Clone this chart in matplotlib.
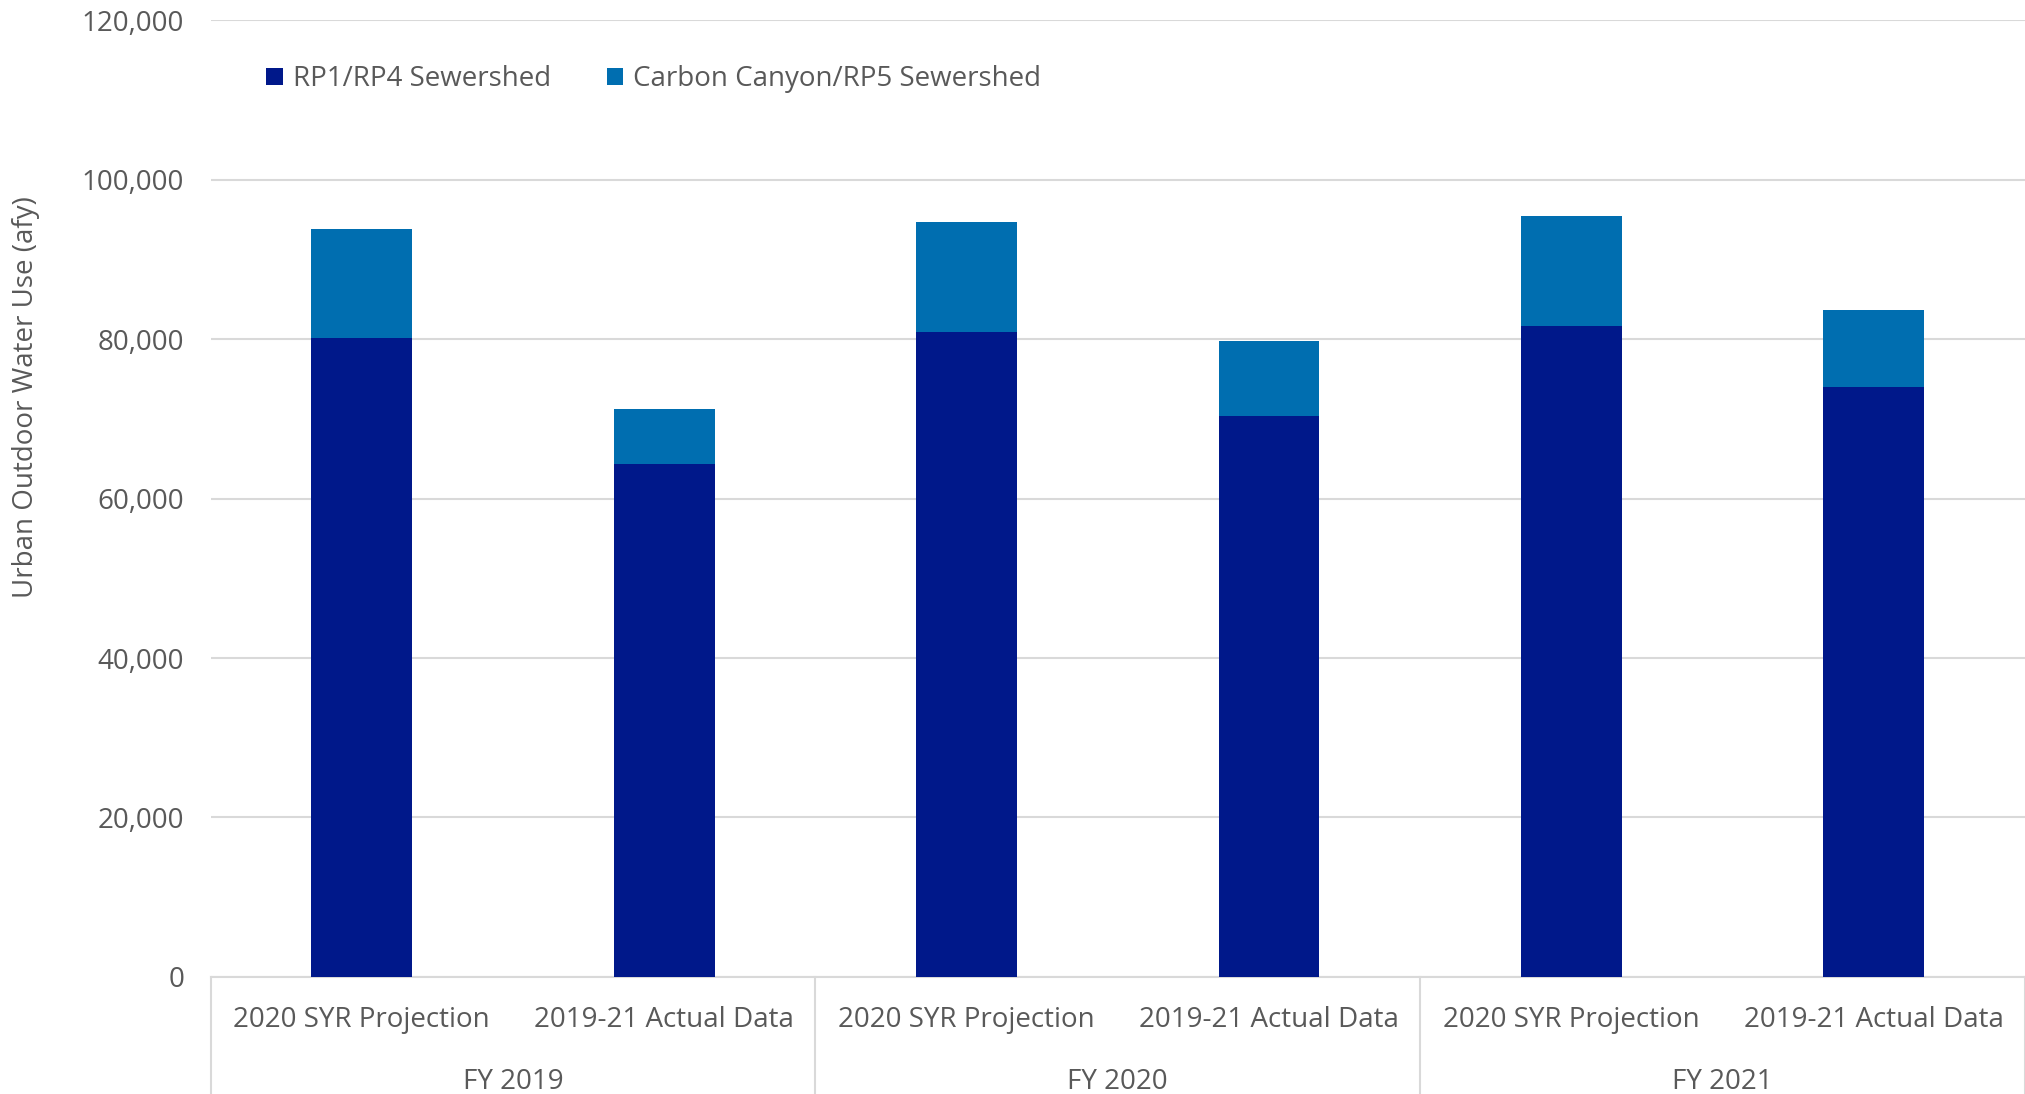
import matplotlib.pyplot as plt
import numpy as np

# data (afy)
years = ['FY 2019', 'FY 2020', 'FY 2021']
sub_labels = ['2020 SYR Projection', '2019-21 Actual Data']
rp1_rp4 = [80200, 64400, 80900, 70400, 81600, 74000]
carbon_rp5 = [13600, 6800, 13800, 9400, 13900, 9700]
series_names = ['RP1/RP4 Sewershed', 'Carbon Canyon/RP5 Sewershed']
yticks = [0, 20000, 40000, 60000, 80000, 100000, 120000]

dark = '#00188a'
light = '#006eb0'
txt = '#595959'
grid = '#d9d9d9'

plt.rcParams['font.family'] = ['Open Sans', 'DejaVu Sans']

fig = plt.figure(figsize=(20.25, 10.94), dpi=100)
ax = fig.add_axes([0.104, 0.107, 0.896, 0.8745])

x = np.arange(len(rp1_rp4))
w = 0.333
ax.bar(x, rp1_rp4, width=w, color=dark, label=series_names[0], zorder=3)
ax.bar(x, carbon_rp5, width=w, bottom=rp1_rp4, color=light, label=series_names[1], zorder=3)

ax.set_xlim(-0.5, len(x) - 0.5)
ax.set_ylim(0, 120000)
ax.set_yticks(yticks)
ax.set_yticklabels([f'{v:,}' for v in yticks])
ax.yaxis.grid(True, color=grid, linewidth=1.5, zorder=0)
ax.tick_params(axis='y', length=0, pad=19, labelsize=20, labelcolor=txt)

ax.set_xticks(x)
ax.set_xticklabels(sub_labels * len(years))
ax.tick_params(axis='x', length=0, pad=21, labelsize=20, labelcolor=txt)

for s in ['top', 'right', 'left']:
    ax.spines[s].set_visible(False)
ax.spines['bottom'].set_color(grid)
ax.spines['bottom'].set_linewidth(1.5)

# group separators and year labels below the axis
for b in np.arange(-0.5, len(x), 2):
    ax.plot([b, b], [0, -0.13], color=grid, linewidth=1.5,
            transform=ax.get_xaxis_transform(), clip_on=False)
for i, yr in enumerate(years):
    ax.text(2 * i + 0.5, -0.11, yr, ha='center', va='center', fontsize=20,
            color=txt, transform=ax.get_xaxis_transform())

fig.text(0.013, 0.637, 'Urban Outdoor Water Use (afy)', rotation=90,
         ha='center', va='center', fontsize=20, color=txt)

ax.legend(loc='upper left', bbox_to_anchor=(0.017, 0.979), ncol=2, frameon=False,
          fontsize=20, labelcolor=txt, handlelength=0.6, handleheight=0.6,
          handletextpad=0.35, columnspacing=2.0)

fig.savefig('out.png', dpi=100)
